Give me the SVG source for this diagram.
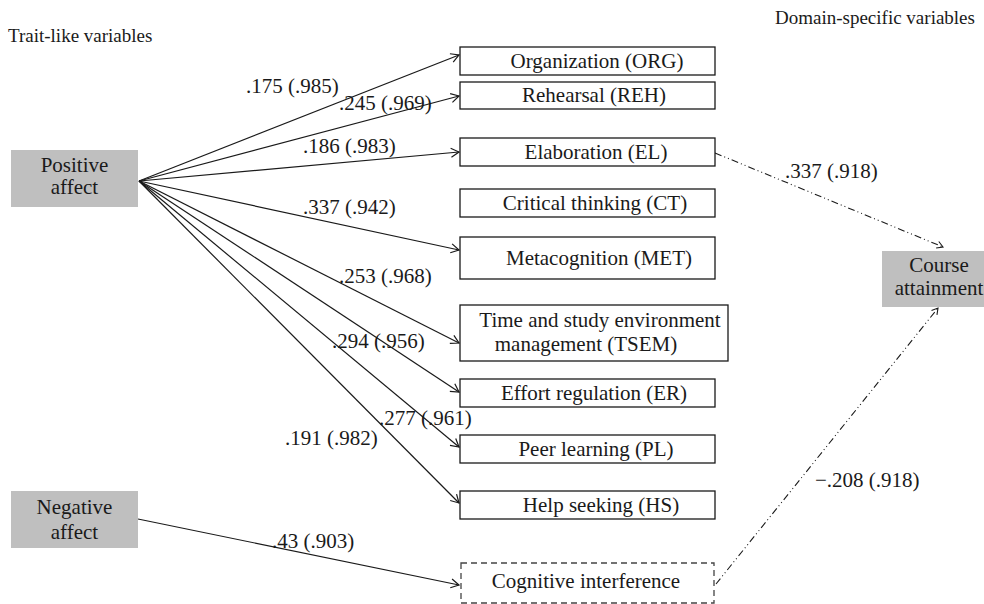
<svg xmlns="http://www.w3.org/2000/svg" width="984" height="604" viewBox="0 0 984 604" font-family="Liberation Serif, Times New Roman, serif">
<style>
text{font-family:"Liberation Serif","Times New Roman",serif;font-size:21px;fill:#1a1a1a}
.hdr{font-size:19px}
.box{fill:#fff;stroke:#1a1a1a;stroke-width:1.3}
.gbox{fill:#bfbfbf;stroke:none}
.dbox{fill:#fff;stroke:#444;stroke-width:1.3;stroke-dasharray:6 4}
.c{text-anchor:middle}
.edge{fill:none;stroke:#1a1a1a;stroke-width:1.2}
.dd{fill:none;stroke:#1a1a1a;stroke-width:1.1;stroke-dasharray:7 3 1 3 1 3}
</style>
<defs>
<marker id="ah" markerUnits="userSpaceOnUse" markerWidth="14" markerHeight="14" refX="10" refY="6" orient="auto" overflow="visible">
<path d="M2,1.5 L10,6 L2,10.5" fill="none" stroke="#1a1a1a" stroke-width="1.2"/>
</marker>
<marker id="ah2" markerUnits="userSpaceOnUse" markerWidth="14" markerHeight="14" refX="8" refY="5" orient="auto" overflow="visible">
<path d="M2,1.5 L8,5 L2,8.5" fill="none" stroke="#1a1a1a" stroke-width="1.1"/>
</marker>
</defs>

<text class="hdr" x="8" y="42">Trait-like variables</text>
<text class="hdr" x="775" y="24">Domain-specific variables</text>

<g id="connectors">
<line class="edge" x1="139" y1="181" x2="459" y2="55" marker-end="url(#ah)"/>
<line class="edge" x1="139" y1="181" x2="459" y2="96" marker-end="url(#ah)"/>
<line class="edge" x1="139" y1="181" x2="459" y2="152" marker-end="url(#ah)"/>
<line class="edge" x1="139" y1="181" x2="459" y2="250" marker-end="url(#ah)"/>
<line class="edge" x1="139" y1="181" x2="459" y2="343" marker-end="url(#ah)"/>
<line class="edge" x1="139" y1="181" x2="459" y2="392" marker-end="url(#ah)"/>
<line class="edge" x1="139" y1="181" x2="459" y2="447" marker-end="url(#ah)"/>
<line class="edge" x1="139" y1="181" x2="459" y2="503" marker-end="url(#ah)"/>
<line class="edge" x1="138" y1="519" x2="459" y2="585" marker-end="url(#ah)"/>
<line class="dd" x1="715" y1="153" x2="943" y2="247" marker-end="url(#ah2)"/>
<line class="dd" x1="716" y1="584" x2="938" y2="308" marker-end="url(#ah2)"/>
<text x="246" y="93">.175 (.985)</text>
<text x="339" y="110">.245 (.969)</text>
<text x="303" y="153">.186 (.983)</text>
<text x="303" y="214">.337 (.942)</text>
<text x="339" y="283">.253 (.968)</text>
<text x="332" y="348">.294 (.956)</text>
<text x="379" y="425">.277 (.961)</text>
<text x="285" y="445">.191 (.982)</text>
<text x="272" y="548">.43 (.903)</text>
<text x="785" y="178">.337 (.918)</text>
<text x="815" y="487">−.208 (.918)</text>
</g>

<g id="positive-affect">
<rect class="gbox" x="11" y="150" width="127" height="57"/>
<text class="c" x="74.5" y="172">Positive</text>
<text class="c" x="74.5" y="194">affect</text>
</g>
<g id="negative-affect">
<rect class="gbox" x="11" y="491" width="127" height="57"/>
<text class="c" x="74.5" y="514">Negative</text>
<text class="c" x="74.5" y="539">affect</text>
</g>
<g id="course-attainment">
<rect class="gbox" x="882" y="251" width="114" height="56"/>
<text class="c" x="939" y="272">Course</text>
<text class="c" x="939" y="295">attainment</text>
</g>

<g id="org">
<rect class="box" x="460" y="47" width="255" height="28"/>
<text class="c" x="597" y="68">Organization (ORG)</text>
</g>
<g id="reh">
<rect class="box" x="460" y="82" width="255" height="27"/>
<text class="c" x="594" y="102">Rehearsal (REH)</text>
</g>
<g id="el">
<rect class="box" x="460" y="138" width="255" height="28"/>
<text class="c" x="596" y="159">Elaboration (EL)</text>
</g>
<g id="ct">
<rect class="box" x="460" y="189" width="255" height="28"/>
<text class="c" x="595" y="210">Critical thinking (CT)</text>
</g>
<g id="met">
<rect class="box" x="460" y="237" width="255" height="42"/>
<text class="c" x="599" y="265">Metacognition (MET)</text>
</g>
<g id="tsem">
<rect class="box" x="460" y="305" width="268" height="56"/>
<text class="c" x="600" y="327">Time and study environment</text>
<text class="c" x="586" y="351">management (TSEM)</text>
</g>
<g id="er">
<rect class="box" x="460" y="379" width="255" height="28"/>
<text class="c" x="594" y="400">Effort regulation (ER)</text>
</g>
<g id="pl">
<rect class="box" x="460" y="435" width="255" height="28"/>
<text class="c" x="596" y="456">Peer learning (PL)</text>
</g>
<g id="hs">
<rect class="box" x="460" y="491" width="255" height="28"/>
<text class="c" x="601" y="512">Help seeking (HS)</text>
</g>
<g id="cog">
<rect class="dbox" x="461" y="563" width="253" height="40"/>
<text class="c" x="586" y="588">Cognitive interference</text>
</g>
</svg>
